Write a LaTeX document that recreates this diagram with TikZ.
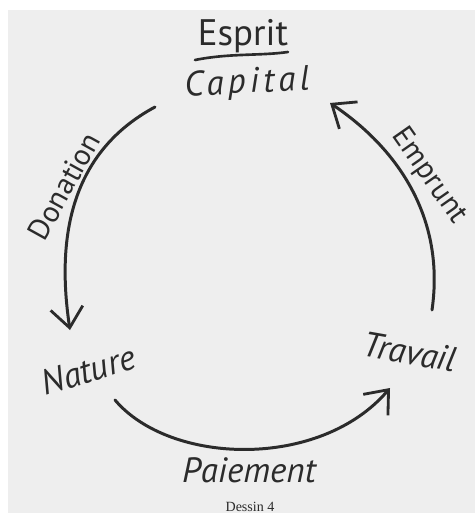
\documentclass[tikz,border=0pt]{standalone}
\usepackage{fontspec}
\setmainfont{PT Sans}
\newfontfamily\captionfont{Liberation Serif}
\usetikzlibrary{arrows.meta}

\definecolor{ink}{HTML}{2B2B2B}
\definecolor{paper}{HTML}{EEEEEE}

\tikzset{
  hand/.style={text=ink, inner sep=0pt, font=\fontsize{20}{22}\selectfont\itshape},
  handup/.style={text=ink, inner sep=0pt, font=\fontsize{21}{23}\selectfont},
  arclabel/.style={text=ink, inner sep=0pt, font=\fontsize{17}{19}\selectfont},
  flow/.style={draw=ink, line width=1.7pt, line cap=round,
    -{Straight Barb[length=4mm,width=6.5mm,line width=1.6pt]}},
}

\begin{document}
\begin{tikzpicture}[x=0.02cm,y=-0.02cm]
    % Scanned page
    \useasboundingbox (0,0) rectangle (475,513);
    \fill[white] (0,0) rectangle (475,513);
    \fill[paper] (8,10) rectangle (475,513);

    % Stations of the cycle
    \node[handup] (esprit) at (243,36) {Esprit};
    \draw[ink,line width=1.5pt,line cap=round] (195,60) .. controls (230,53) and (260,56) .. (288,52);
    \node[hand,rotate=3] (capital) at (247,84) {\addfontfeatures{LetterSpace=12}Capital};
    \node[hand,rotate=17] (nature) at (88,370) {Nature};
    \node[hand,rotate=-10] (travail) at (410,352) {Travail};

    % Arrow ends
    \coordinate (donS) at (155,107);
    \coordinate (donE) at (70,330);
    \coordinate (paiS) at (115,400);
    \coordinate (paiE) at (390,388);
    \coordinate (empS) at (432,310);
    \coordinate (empE) at (330,103);

    % Flows
    \draw[flow] (donS) .. controls (75,150) and (55,230) .. (donE);
    \draw[flow] (paiS) .. controls (170,465) and (320,470) .. (paiE);
    \draw[flow] (empS) .. controls (445,220) and (400,150) .. (empE);

    % Labels of the flows
    \node[arclabel,rotate=61] (donation) at (64,186) {Donation};
    \node[arclabel,rotate=-55] (emprunt) at (429,176) {Emprunt};
    \node[hand] (paiement) at (249,470) {Paiement};

    % Caption
    \node[text=ink,font=\captionfont\fontsize{8}{9}\selectfont] (dessin) at (250,507) {Dessin 4};
\end{tikzpicture}
\end{document}
